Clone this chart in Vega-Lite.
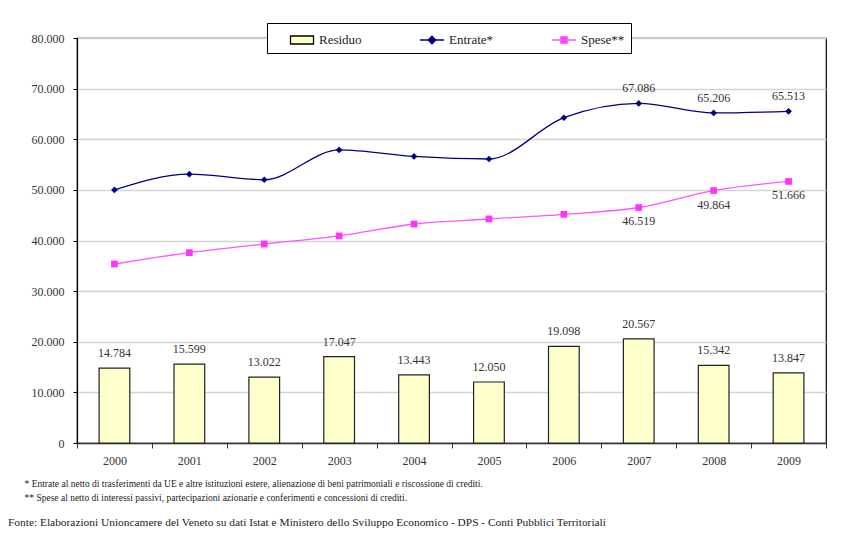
{
  "$schema": "https://vega.github.io/schema/vega-lite/v6.json",
  "width": 749,
  "height": 405,
  "autosize": {"type": "none"},
  "padding": {"left": 77, "top": 38, "right": 29, "bottom": 91},
  "background": "white",
  "title": {
    "text": "Fonte: Elaborazioni Unioncamere del Veneto su dati Istat e Ministero dello Sviluppo Economico - DPS - Conti Pubblici Territoriali",
    "orient": "bottom",
    "anchor": "start",
    "frame": "group",
    "dx": -69,
    "offset": 15,
    "font": "Liberation Serif",
    "fontSize": 11.4,
    "fontWeight": "normal",
    "color": "#222"
  },
  "data": {
    "values": [
      {"year": "2000", "series": "Residuo", "value": 14784},
      {"year": "2001", "series": "Residuo", "value": 15599},
      {"year": "2002", "series": "Residuo", "value": 13022},
      {"year": "2003", "series": "Residuo", "value": 17047},
      {"year": "2004", "series": "Residuo", "value": 13443},
      {"year": "2005", "series": "Residuo", "value": 12050},
      {"year": "2006", "series": "Residuo", "value": 19098},
      {"year": "2007", "series": "Residuo", "value": 20567},
      {"year": "2008", "series": "Residuo", "value": 15342},
      {"year": "2009", "series": "Residuo", "value": 13847},
      {"year": "2000", "series": "Entrate*", "value": 50000},
      {"year": "2001", "series": "Entrate*", "value": 53100},
      {"year": "2002", "series": "Entrate*", "value": 52000},
      {"year": "2003", "series": "Entrate*", "value": 57900},
      {"year": "2004", "series": "Entrate*", "value": 56600},
      {"year": "2005", "series": "Entrate*", "value": 56100},
      {"year": "2006", "series": "Entrate*", "value": 64250},
      {"year": "2007", "series": "Entrate*", "value": 67086},
      {"year": "2008", "series": "Entrate*", "value": 65206},
      {"year": "2009", "series": "Entrate*", "value": 65513},
      {"year": "2000", "series": "Spese**", "value": 35360},
      {"year": "2001", "series": "Spese**", "value": 37600},
      {"year": "2002", "series": "Spese**", "value": 39300},
      {"year": "2003", "series": "Spese**", "value": 40900},
      {"year": "2004", "series": "Spese**", "value": 43260},
      {"year": "2005", "series": "Spese**", "value": 44250},
      {"year": "2006", "series": "Spese**", "value": 45170},
      {"year": "2007", "series": "Spese**", "value": 46519},
      {"year": "2008", "series": "Spese**", "value": 49864},
      {"year": "2009", "series": "Spese**", "value": 51666}
    ]
  },
  "encoding": {
    "x": {
      "field": "year",
      "type": "ordinal",
      "scale": {"type": "band", "paddingInner": 0, "paddingOuter": 0},
      "axis": {
        "labelAngle": 0,
        "tickBand": "extent",
        "title": [
          "* Entrate al netto di trasferimenti da UE e altre istituzioni estere, alienazione di beni patrimoniali e riscossione di crediti.",
          "** Spese al netto di interessi passivi, partecipazioni azionarie e conferimenti e concessioni di crediti."
        ],
        "titleX": -53,
        "titleY": 35,
        "titleAnchor": "start",
        "titleAlign": "left",
        "titleBaseline": "top",
        "titleFont": "Liberation Serif",
        "titleFontSize": 9.5,
        "titleFontWeight": "normal",
        "titleColor": "#222",
        "titleLineHeight": 14,
        "domainColor": "#333",
        "domainWidth": 1.5,
        "tickColor": "#333",
        "tickSize": 5,
        "labelPadding": 7,
        "grid": false
      }
    },
    "y": {
      "field": "value",
      "type": "quantitative",
      "scale": {"domain": [0, 80000], "nice": false},
      "axis": {
        "values": [0, 10000, 20000, 30000, 40000, 50000, 60000, 70000, 80000],
        "format": ",d",
        "title": null,
        "grid": true,
        "gridColor": "#d4d4d4",
        "gridWidth": 1.5,
        "domainColor": "#000",
        "domainWidth": 1.2,
        "tickColor": "#000",
        "tickSize": 4,
        "labelPadding": 9
      }
    }
  },
  "layer": [
    {
      "mark": {"type": "point", "filled": true, "opacity": 0, "size": 0},
      "encoding": {
        "color": {
          "field": "series",
          "type": "nominal",
          "scale": {"domain": ["Residuo", "Entrate*", "Spese**"], "range": ["#ffffcc", "#000080", "#ff33ff"]},
          "legend": {
            "orient": "none",
            "legendX": 190,
            "legendY": -15,
            "direction": "horizontal",
            "title": " ",
            "titleOrient": "left",
            "titlePadding": 18,
            "titleFontSize": 12,
            "padding": 6,
            "fillColor": "white",
            "strokeColor": "#000",
            "symbolSize": 400,
            "symbolOpacity": 1,
            "symbolStrokeWidth": 1.3,
            "labelOffset": 6,
            "columnPadding": 55,
            "labelFont": "Liberation Serif",
            "labelFontSize": 13,
            "labelColor": "#222"
          }
        },
        "stroke": {
          "field": "series",
          "type": "nominal",
          "scale": {"domain": ["Residuo", "Entrate*", "Spese**"], "range": ["#000000", "#000080", "#ff55ff"]},
          "legend": {"title": " ", "orient": "none", "legendX": 190, "legendY": -15, "direction": "horizontal", "symbolOpacity": 1}
        },
        "shape": {
          "field": "series",
          "type": "nominal",
          "scale": {
            "domain": ["Residuo", "Entrate*", "Spese**"],
            "range": [
              "M-1.15,-0.4H1.15V0.4H-1.15Z",
              "M-1.2,0H1.2M0,-0.38L0.38,0L0,0.38L-0.38,0Z",
              "M-1.2,0H1.2M-0.32,-0.32H0.32V0.32H-0.32Z"
            ]
          },
          "legend": {"title": " ", "orient": "none", "legendX": 190, "legendY": -15, "direction": "horizontal", "symbolOpacity": 1}
        }
      }
    },
    {
      "transform": [{"filter": "datum.series === 'Residuo'"}],
      "mark": {"type": "bar", "width": {"band": 0.41}, "stroke": "#222", "strokeWidth": 1.2},
      "encoding": {
        "color": {"field": "series", "type": "nominal"}
      }
    },
    {
      "transform": [{"filter": "datum.series === 'Residuo'"}],
      "mark": {"type": "text", "baseline": "bottom", "dy": -8, "font": "Liberation Serif", "fontSize": 12, "color": "#333"},
      "encoding": {
        "text": {"field": "value", "type": "quantitative", "format": ",d"}
      }
    },
    {
      "transform": [{"filter": "datum.series !== 'Residuo'"}],
      "mark": {"type": "line", "interpolate": "monotone", "strokeWidth": 1.3},
      "encoding": {
        "stroke": {"field": "series", "type": "nominal"}
      }
    },
    {
      "transform": [{"filter": "datum.series === 'Entrate*'"}],
      "mark": {"type": "point", "shape": "diamond", "filled": true, "size": 45, "opacity": 1, "color": "#000080"}
    },
    {
      "transform": [{"filter": "datum.series === 'Spese**'"}],
      "mark": {"type": "point", "shape": "square", "filled": true, "size": 45, "opacity": 1, "color": "#ff33ff"}
    },
    {
      "transform": [{"filter": "datum.series === 'Entrate*' && datum.year >= '2007'"}],
      "mark": {"type": "text", "baseline": "bottom", "dy": -8, "font": "Liberation Serif", "fontSize": 12, "color": "#333"},
      "encoding": {
        "text": {"field": "value", "type": "quantitative", "format": ",d"}
      }
    },
    {
      "transform": [{"filter": "datum.series === 'Spese**' && datum.year >= '2007'"}],
      "mark": {"type": "text", "baseline": "top", "dy": 9, "font": "Liberation Serif", "fontSize": 12, "color": "#333"},
      "encoding": {
        "text": {"field": "value", "type": "quantitative", "format": ",d"}
      }
    }
  ],
  "config": {
    "locale": {"number": {"decimal": ",", "thousands": ".", "grouping": [3], "currency": ["", " €"]}},
    "view": {"stroke": "#000", "strokeWidth": 1.2},
    "font": "Liberation Serif",
    "axis": {"labelFont": "Liberation Serif", "labelFontSize": 12, "labelColor": "#333"}
  }
}
